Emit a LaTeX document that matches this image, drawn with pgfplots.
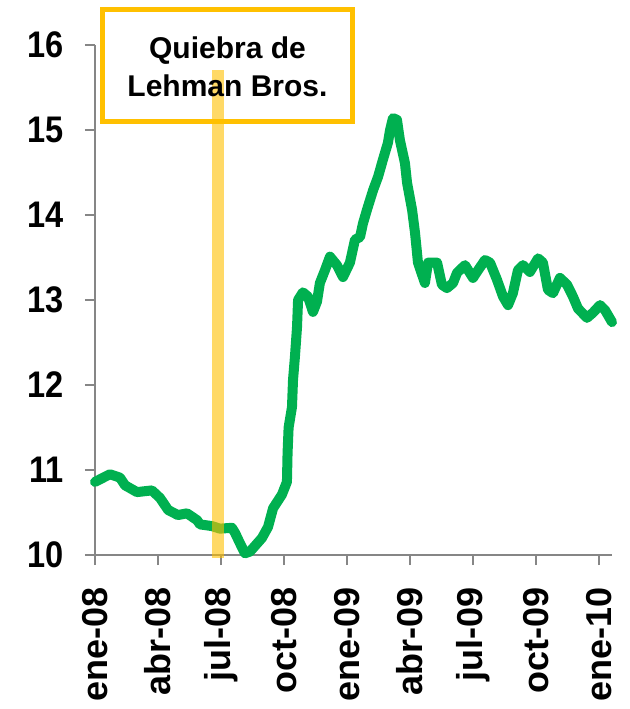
\documentclass[border=0pt]{standalone}
\usepackage{pgfplots}
\pgfplotsset{compat=1.18}
\usepackage{fontspec}
\setmainfont{Liberation Sans}
\newfontfamily\ylab[FakeStretch=0.88]{Liberation Sans Bold}
\definecolor{verde}{HTML}{00B050}
\definecolor{naranja}{HTML}{FFC000}
\definecolor{eje}{HTML}{868686}

\begin{document}
\begin{tikzpicture}
\useasboundingbox (-95pt,-154pt) rectangle (534pt,555pt);
\begin{axis}[
  at={(0,0)}, anchor=south west,
  scale only axis,
  width=517pt, height=510pt,
  xmin=0, xmax=24.62,
  ymin=10, ymax=16,
  clip=false,
  axis x line*=bottom,
  axis y line*=left,
  axis line style={eje, line width=1.5pt},
  tick style={eje, line width=1.5pt},
  tick align=outside,
  major tick length=10pt,
  xtick={0,3,6,9,12,15,18,21,24},
  xticklabels={ene-08,abr-08,jul-08,oct-08,ene-09,abr-09,jul-09,oct-09,ene-10},
  ytick={10,11,12,13,14,15,16},
  /pgf/number format/assume math mode=true,
  xticklabel style={font=\fontsize{36}{36}\selectfont\bfseries, black, rotate=90, anchor=east, inner sep=0pt},
  xticklabel shift=22pt,
  yticklabel style={font=\fontsize{37}{37}\selectfont\ylab, black, inner sep=0pt},
  yticklabel shift=21pt,
]
\addplot[verde, line width=10pt, line join=round, line cap=round] coordinates {
(0,10.86) (0.71,10.95) (1.19,10.91) (1.43,10.82) (2.0,10.74) (2.71,10.76)
(3.1,10.67) (3.48,10.53) (3.95,10.47) (4.38,10.49) (4.86,10.41) (5.0,10.36)
(5.57,10.34) (5.95,10.31) (6.52,10.32) (6.67,10.26) (6.9,10.14) (7.14,10.02)
(7.38,10.04) (7.95,10.20) (8.24,10.33) (8.48,10.55) (8.9,10.71) (9.14,10.86)
(9.17,11.2) (9.22,11.5) (9.38,11.74) (9.43,12.06) (9.52,12.33) (9.62,12.68)
(9.67,13.0) (9.9,13.09) (10.14,13.04) (10.38,12.86) (10.57,12.98) (10.71,13.2)
(10.95,13.35) (11.19,13.51) (11.52,13.41) (11.81,13.27) (12.14,13.44) (12.38,13.71)
(12.62,13.74) (12.76,13.9) (12.95,14.06) (13.24,14.29) (13.48,14.45) (13.71,14.65)
(13.95,14.85) (14.05,15.0) (14.19,15.14) (14.38,15.12) (14.52,14.88) (14.76,14.61)
(14.86,14.38) (15.1,14.06) (15.24,13.79) (15.38,13.44) (15.71,13.2) (15.86,13.44)
(16.29,13.44) (16.52,13.18) (16.76,13.14) (17.05,13.2) (17.24,13.32) (17.62,13.41)
(18.0,13.26) (18.24,13.35) (18.57,13.47) (18.81,13.44) (19.14,13.24) (19.43,13.04)
(19.67,12.94) (19.9,13.08) (20.14,13.35) (20.38,13.41) (20.71,13.33) (21.1,13.49)
(21.33,13.44) (21.57,13.12) (21.81,13.08) (22.14,13.26) (22.48,13.18) (22.76,13.04)
(23.0,12.9) (23.43,12.79) (23.71,12.85) (24.05,12.94) (24.29,12.88) (24.62,12.74)
};
% recuadro
\node[draw=naranja, line width=5pt, fill=white, minimum width=250pt, minimum height=112pt,
  inner sep=0pt] at (axis cs:6.31,15.76) {};
% barra Lehman
\addplot[naranja, opacity=0.6, line width=12pt] coordinates {(5.857,9.965) (5.857,15.71)};
\node[align=center, font=\fontsize{30}{38}\selectfont\bfseries] at (axis cs:6.31,15.74) {Quiebra de\\Lehman Bros.};
\end{axis}
\end{tikzpicture}
\end{document}
